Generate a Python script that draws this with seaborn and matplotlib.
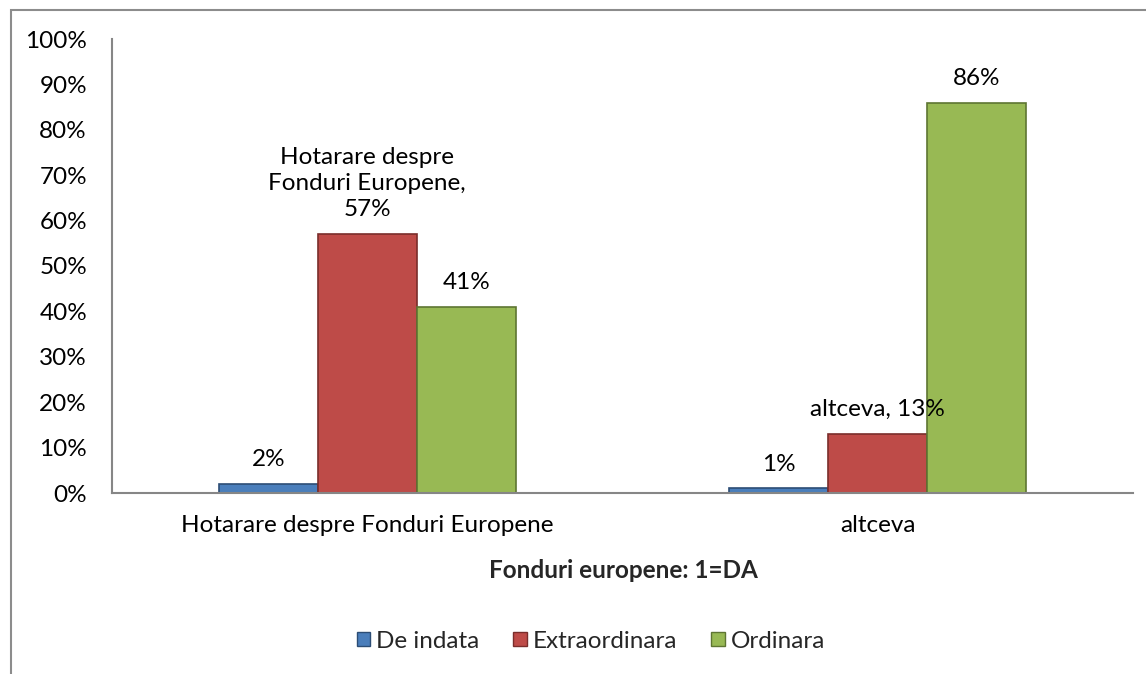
import textwrap

import matplotlib.pyplot as plt
import pandas as pd
import seaborn as sns
from matplotlib.patches import Patch, Rectangle
from matplotlib.ticker import FuncFormatter

categories = ["Hotarare despre Fonduri Europene", "altceva"]
series = ["De indata", "Extraordinara", "Ordinara"]
de_indata = [2, 1]
extraordinara = [57, 13]
ordinara = [41, 86]

colors = ["#4A7EBB", "#BE4B48", "#98B954"]
edges = ["#2C4D75", "#7A2D2B", "#5E7532"]
FS = 17.5

rows = []
for name, vals in zip(series, [de_indata, extraordinara, ordinara]):
    for cat, v in zip(categories, vals):
        rows.append({"cat": cat, "serie": name, "val": v / 100})
df = pd.DataFrame(rows)

sns.set_style("white")
plt.rcParams["font.family"] = ["Lato", "DejaVu Sans"]
plt.rcParams["font.size"] = FS

fig = plt.figure(figsize=(11.46, 6.74), dpi=100)
ax = fig.add_axes([112 / 1146, 1 - 493 / 674, 1021 / 1146, 454 / 674])

sns.barplot(
    data=df, x="cat", y="val", hue="serie", order=categories, hue_order=series,
    palette=colors, saturation=1, width=0.582, gap=0, legend=False, ax=ax,
)

# bar edges + data labels
for i, cont in enumerate(ax.containers):
    for j, bar in enumerate(cont.patches):
        bar.set_edgecolor(edges[i])
        bar.set_linewidth(1.2)
        v = round(bar.get_height() * 100)
        if series[i] == "Extraordinara":
            txt = textwrap.fill(f"{categories[j]}, {v}%", width=17)
        else:
            txt = f"{v}%"
        ax.annotate(
            txt, (bar.get_x() + bar.get_width() / 2, bar.get_height()),
            xytext=(0, 10), textcoords="offset points",
            ha="center", va="bottom", fontsize=FS, linespacing=1.3, color="#000000",
        )

ax.set_ylim(0, 1)
ax.set_xlim(-0.5, 1.5)
ax.set_yticks([i / 10 for i in range(11)])
ax.yaxis.set_major_formatter(FuncFormatter(lambda y, _: f"{round(y * 100)}%"))
ax.tick_params(axis="y", length=0, pad=18, labelsize=FS, labelcolor="#000000")
ax.tick_params(axis="x", length=0, pad=16, labelsize=FS, labelcolor="#000000")
ax.set_xlabel("")
ax.set_ylabel("")
for s in ["top", "right"]:
    ax.spines[s].set_visible(False)
for s in ["left", "bottom"]:
    ax.spines[s].set_color("#868686")
    ax.spines[s].set_linewidth(1.5)

fig.text(623 / 1146, 1 - 570 / 674, "Fonduri europene: 1=DA", ha="center", va="center",
         fontsize=FS, fontweight="bold")

handles = [Patch(facecolor=c, edgecolor=e, linewidth=1) for c, e in zip(colors, edges)]
fig.legend(handles, series, loc="center", bbox_to_anchor=(591 / 1146, 1 - 641 / 674),
           ncol=3, frameon=False, fontsize=FS, handlelength=0.55, handleheight=0.55,
           handletextpad=0.25, columnspacing=1.4)

# outer chart frame (right and bottom edges fall outside the image)
fig.patches.append(Rectangle((11 / 1146, -0.1), 1.2, 1.1 - 10 / 674, transform=fig.transFigure,
                             fill=False, edgecolor="#8C8C8C", linewidth=1.5))

fig.savefig("out.png", dpi=100)
